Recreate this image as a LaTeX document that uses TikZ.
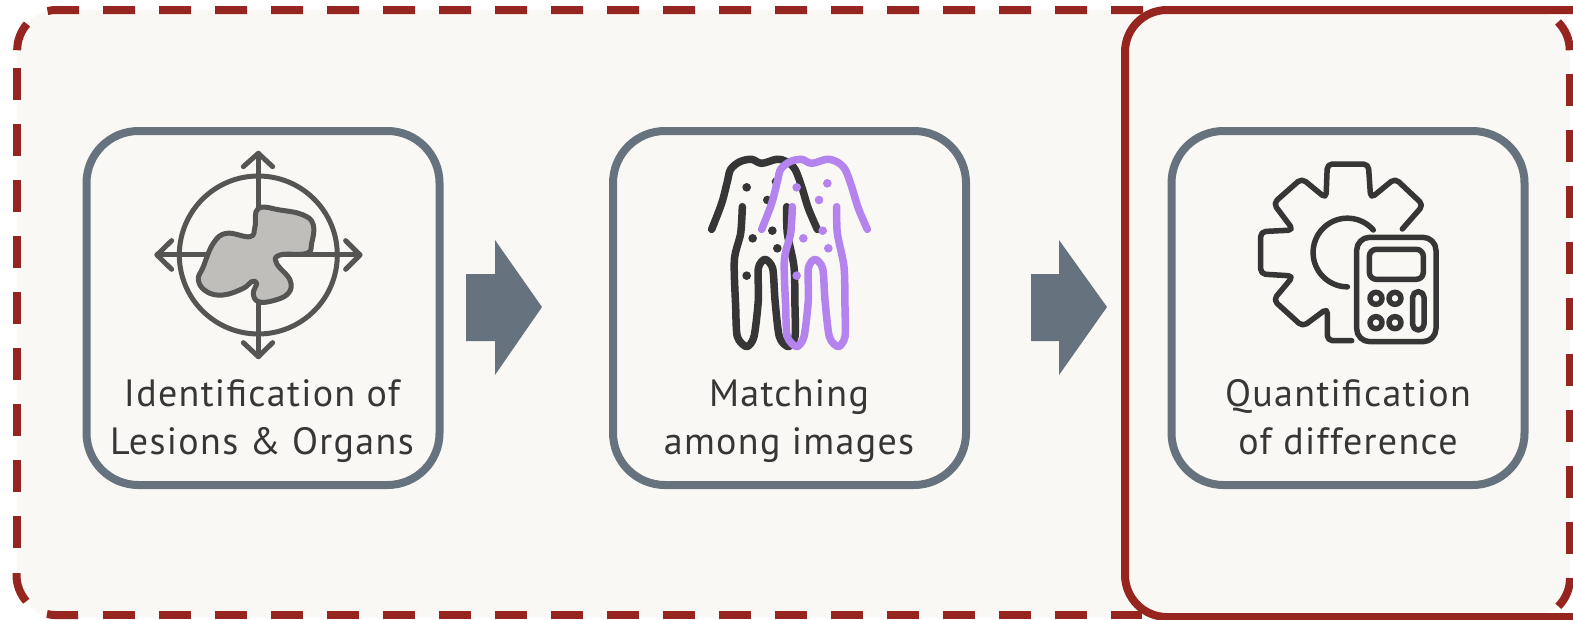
\documentclass[tikz,border=0pt]{standalone}
\usepackage{fontspec}
\setmainfont[LetterSpace=3.5]{PT Sans}
\definecolor{bg}{HTML}{FAF8F4}
\definecolor{brick}{HTML}{96251F}
\definecolor{slate}{HTML}{66727E}
\definecolor{ink}{HTML}{363636}
\definecolor{icongrey}{HTML}{555553}
\definecolor{blobfill}{HTML}{BFBEBA}
\definecolor{violet}{HTML}{B583EE}
\tikzset{
  px/.style={x=1pt,y=-1pt},
  stepbox/.style={draw=slate,line width=8pt,rounded corners=52pt,minimum width=353pt,minimum height=354pt,inner sep=0pt},
  caption/.style={font=\fontsize{38}{48}\selectfont,text=ink,align=center,inner sep=0pt},
  frame/.style={draw=brick,line width=8pt},
  dashframe/.style={frame,dash pattern=on 32pt off 24pt},
  blockarrow/.style={fill=slate},
  body/.style={line width=7.5pt,line cap=round,line join=round},
  geartrace/.style={draw=ink,line width=5.5pt,line cap=round,line join=round},
}
\newcommand{\bodyshape}[1]{%
  \draw[body,draw=#1] plot[smooth,tension=.55] coordinates {(95,268) (125,190) (142,125) (152,88) (180,65) (215,58) (245,70) (290,58) (320,65) (345,88) (365,140) (385,205) (412,268)};
  \draw[body,draw=#1] plot[smooth,tension=.45] coordinates {(187,200) (182,280) (163,360) (167,500) (172,590) (200,620) (222,590) (235,480) (235,385) (255,358) (278,385) (285,480) (298,590) (325,620) (345,590) (345,500) (342,380) (322,280) (320,200)};
}
\begin{document}
\begin{tikzpicture}[px]
\useasboundingbox (0,0) rectangle (1573,619);
% backdrop
\fill[bg,rounded corners=40pt] (16.5,10) rectangle (1570,617);
% dashed outer frame
\draw[dashframe] (1143,10) -- (79,10) -- (56.5,10) arc[start angle=-90,end angle=-103,radius=40];
\draw[frame] (27,24) arc[start angle=-139,end angle=-180,radius=40];
\draw[dashframe] (16.5,68) -- (16.5,548);
\draw[frame] (16.5,573) -- (16.5,575) arc[start angle=180,end angle=139,radius=40];
\draw[frame] (47,614) arc[start angle=103,end angle=90,radius=40] -- (78,615);
\draw[dashframe] (103,615) -- (1142,615);
% solid frame
\draw[frame] (1573,10) -- (1167,10) arc[start angle=-90,end angle=-180,radius=42] -- (1125,575) arc[start angle=180,end angle=90,radius=42] -- (1573,617);
\draw[frame] (1558,22) arc[start angle=-45,end angle=0,radius=40];
\draw[dashframe] (1570,74) -- (1570,554);
\draw[frame] (1570,578) arc[start angle=0,end angle=45,radius=40];
% boxes
\node[stepbox] (identify) at (263,308) {};
\node[stepbox] (match) at (789.5,308) {};
\node[stepbox] (quantify) at (1348,308) {};
% captions
\node[caption] (identifytext) at (262,421) {Identification of\\Lesions \& Organs};
\node[caption] (matchtext) at (789,421) {Matching\\among images};
\node[caption] (quantifytext) at (1348,417.5) {Quantification\\of difference};
% block arrows
\fill[blockarrow] (466,274) -- (495,274) -- (495,240) -- (542,307) -- (495,375) -- (495,341) -- (466,341) -- cycle;
\fill[blockarrow] (1031,274) -- (1059,274) -- (1059,240) -- (1107,307) -- (1059,375) -- (1059,341) -- (1031,341) -- cycle;
% lesion icon
\begin{scope}[shift={(80,120)},x=.3333pt,y=-.3333pt,draw=icongrey,line width=5pt,line cap=round,line join=round]
  \draw (535,405) circle[radius=237];
  \draw (535,100) -- (535,710);
  \draw (231,405) -- (840,405);
  \draw (490,140) -- (535,100) -- (578,140);
  \draw (490,668) -- (535,710) -- (578,668);
  \draw (275,362) -- (231,405) -- (275,448);
  \draw (797,362) -- (840,405) -- (797,448);
  \draw[fill=blobfill] plot[smooth cycle,tension=.7] coordinates {(535,265) (600,270) (670,285) (700,315) (695,370) (680,400) (600,405) (590,430) (630,480) (625,520) (580,542) (535,545) (520,520) (530,490) (515,485) (490,505) (430,525) (380,515) (355,480) (370,440) (400,370) (440,340) (510,350) (525,320)};
\end{scope}
% matching icon
\begin{scope}[shift={(680,140)},x=.3333pt,y=-.3333pt]
  \bodyshape{ink}
  \foreach \u/\v in {200/142,262/180,277/272,218/295,292/325,200/407,288/125}
    \fill[ink] (\u,\v) circle[radius=13];
  \begin{scope}[xshift=50pt]
    \bodyshape{violet}
  \end{scope}
  \foreach \u/\v in {350/142,442/130,417/180,428/272,370/295,445/325,350/407}
    \fill[violet] (\u,\v) circle[radius=13];
\end{scope}
% calculator gear icon
\begin{scope}[shift={(1240,150)},x=.3333pt,y=-.3333pt]
  \draw[geartrace,rounded corners=5pt] (335,572) -- (262,572) -- (262,475) -- (188,530) -- (100,450) -- (160,378) -- (62,372) -- (62,245) -- (160,240) -- (100,160) -- (185,85) -- (258,145) -- (262,42) -- (385,42) -- (392,145) -- (465,85) -- (550,165) -- (487,237);
  \draw[geartrace] (400,240) arc[start angle=-41,end angle=-270,radius=103];
  \draw[geartrace,rounded corners=13pt] (350,262) rectangle (588,575);
  \draw[geartrace,rounded corners=7pt] (388,298) rectangle (550,388);
  \foreach \u/\v in {408/445,465/445,408/518,465/518}
    \draw[geartrace] (\u,\v) circle[radius=18];
  \draw[geartrace,rounded corners=5.5pt] (518,425) rectangle (552,540);
\end{scope}
\end{tikzpicture}
\end{document}
